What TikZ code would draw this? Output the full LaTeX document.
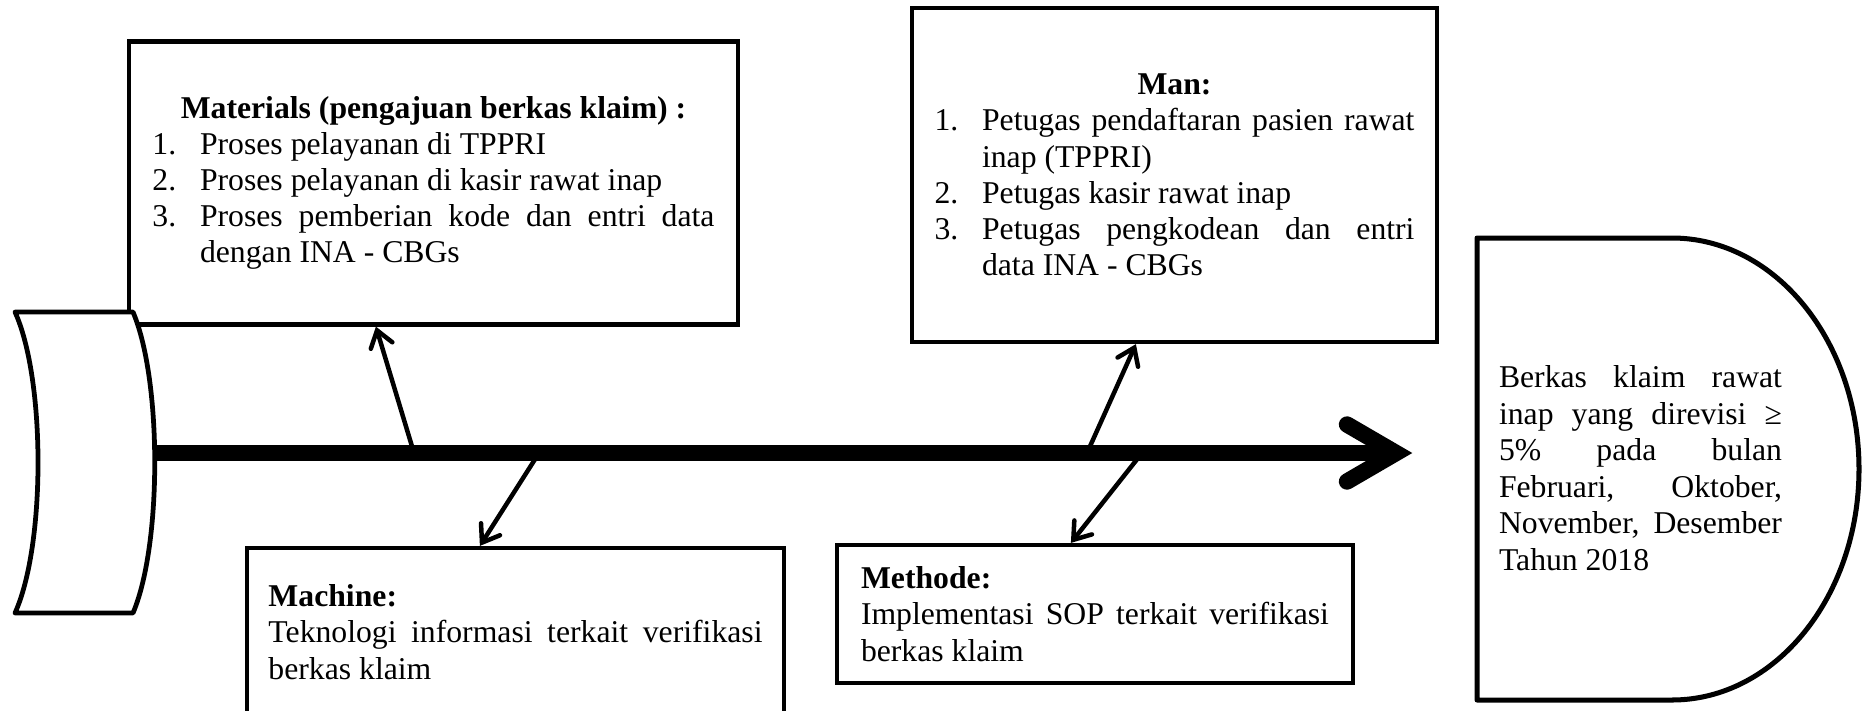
\documentclass[tikz,border=0pt]{standalone}
\usepackage{fontspec}
\setmainfont{Liberation Serif}
\usetikzlibrary{arrows.meta}
\tolerance=10000
\hbadness=10000
\hyphenpenalty=10000
\newcommand\pxl{0.3785pt}
\newcommand\fishitem[2]{\par\noindent\hangindent=18pt\hangafter=1\makebox[18pt][l]{#1}#2\par}
\tikzset
{
    causebox/.style   = {rectangle, draw=black, line width=1.6pt, fill=white, inner sep=0pt, align=justify, font=\fontsize{12pt}{13.7pt}\selectfont},
    effecttext/.style = {inner sep=0pt, align=justify, text width=107.12pt, font=\fontsize{12pt}{13.8pt}\selectfont},
    bone/.style       = {line width=1.7pt, -{Straight Barb[length=6pt, width=8.5pt, line cap=round, line join=miter]}},
    spine/.style      = {line width=5.7pt},
    spinebarb/.style  = {line width=6.2pt, line cap=round, line join=miter},
    fishtail/.style   = {draw=black, fill=white, line width=1.8pt, line join=round},
    fishhead/.style   = {draw=black, line width=1.9pt, line join=round}
}
\begin{document}
\begin{tikzpicture}[x=\pxl, y=-\pxl]
\useasboundingbox (0,0) rectangle (1867,710);
% cause boxes
\node(materials) [causebox, minimum width=230.51pt, minimum height=107.12pt, text width=212.72pt] at (433.5, 183)
  {\centerline{\bfseries Materials (pengajuan berkas klaim) :}\fishitem{1.}{Proses pelayanan di TPPRI}\fishitem{2.}{Proses pelayanan di kasir rawat inap}\fishitem{3.}{Proses pemberian kode dan entri data\linebreak dengan INA - CBGs}};
\node(man) [causebox, minimum width=198.71pt, minimum height=126.42pt, text width=181.68pt] at (1174.5, 175)
  {\centerline{\bfseries Man:}\fishitem{1.}{Petugas pendaftaran pasien rawat\linebreak inap (TPPRI)}\fishitem{2.}{Petugas kasir rawat inap}\fishitem{3.}{Petugas pengkodean dan entri\linebreak data INA - CBGs}};
\node(machine) [causebox, minimum width=203.25pt, minimum height=63.59pt, text width=186.98pt] at (515.5, 632)
  {\textbf{Machine:}\par Teknologi informasi terkait verifikasi\linebreak berkas klaim};
\node(methode) [causebox, minimum width=195.31pt, minimum height=52.23pt, text width=177.14pt] at (1095, 614)
  {\textbf{Methode:}\par Implementasi SOP terkait verifikasi\linebreak berkas klaim};
% bones
\coordinate (matroot) at (414, 453);
\coordinate (macroot) at (539, 453);
\coordinate (manroot) at (1087, 453);
\coordinate (metroot) at (1142, 453);
\draw[bone] (matroot) -- ([xshift=94.25pt]materials.south west);
\draw[bone] (macroot) -- ([xshift=88.95pt]machine.north west);
\draw[bone] (manroot) -- ([xshift=85.54pt]man.south west);
\draw[bone] (metroot) -- ([xshift=89.33pt]methode.north west);
% spine
\coordinate (tailend) at (150, 453);
\coordinate (spinetip) at (1396, 453);
\draw[spine] (tailend) -- (spinetip);
\draw[spinebarb] ([shift={(-49,-28.5)}]spinetip) -- (spinetip) -- ([shift={(-49,28.5)}]spinetip);
% tail and head
\draw[fishtail] (15,312) -- (133,312) .. controls (162,380) and (162,545) .. (133,613) -- (15,613) .. controls (45.7,545) and (45.7,380) .. cycle;
\draw[fishhead] (1477,238) -- (1672,238) .. controls (1775.3,238) and (1859,341.4) .. (1859,469) .. controls (1859,596.6) and (1775.3,700) .. (1672,700) -- (1477,700) -- cycle;
\node(effect) [effecttext] at (1640.5, 468) {Berkas klaim rawat\linebreak inap yang direvisi ≥\linebreak 5\% pada bulan\linebreak Februari, Oktober,\linebreak November, Desember\linebreak Tahun 2018};
\end{tikzpicture}
\end{document}
